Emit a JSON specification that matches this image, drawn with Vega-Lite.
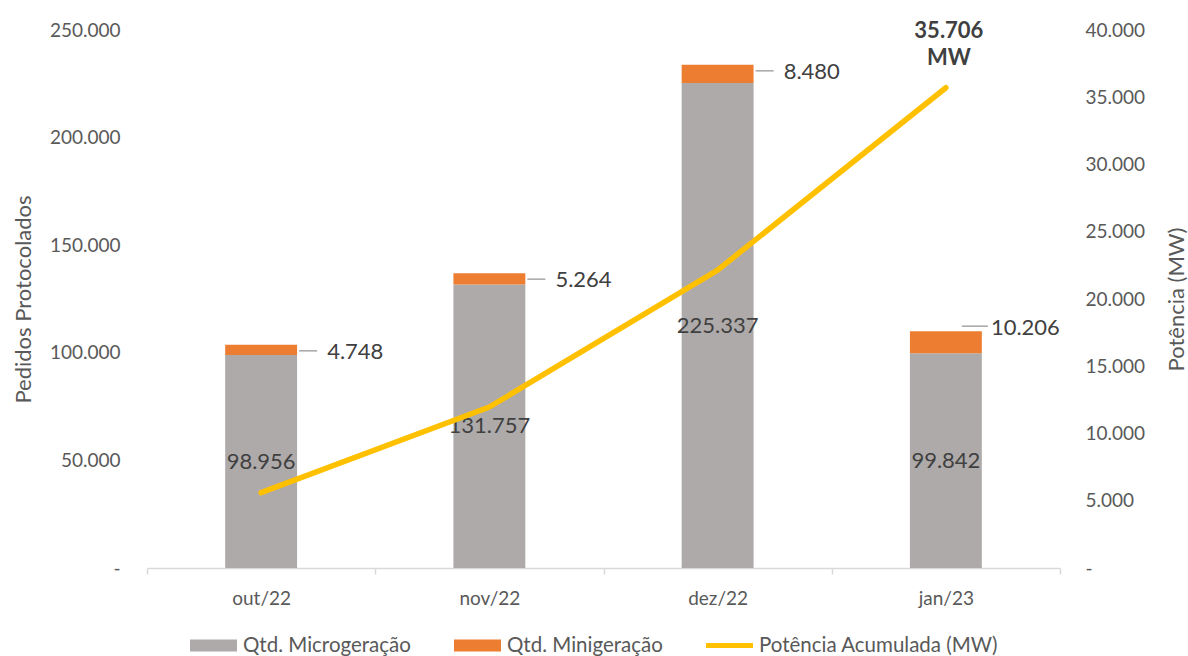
{
  "$schema": "https://vega.github.io/schema/vega-lite/v6.json",
  "width": 913,
  "height": 538,
  "autosize": "none",
  "padding": {"left": 147, "top": 30, "right": 128, "bottom": 88},
  "background": "#ffffff",
  "config": {
    "locale": {"number": {"decimal": ",", "thousands": ".", "grouping": [3], "currency": ["R$ ", ""]}},
    "view": {"stroke": null},
    "font": "Lato",
    "text": {"font": "Lato"},
    "axis": {"labelFont": "Lato", "titleFont": "Lato", "labelColor": "#595959", "titleColor": "#595959", "labelFontSize": 19, "titleFontSize": 22, "titleFontWeight": "normal", "grid": false},
    "legend": {"labelFont": "Lato"}
  },
  "datasets": {
    "barras": [
      {"mes": "out/22", "serie": "Qtd. Microgeração", "valor": 98956},
      {"mes": "out/22", "serie": "Qtd. Minigeração", "valor": 4748},
      {"mes": "nov/22", "serie": "Qtd. Microgeração", "valor": 131757},
      {"mes": "nov/22", "serie": "Qtd. Minigeração", "valor": 5264},
      {"mes": "dez/22", "serie": "Qtd. Microgeração", "valor": 225337},
      {"mes": "dez/22", "serie": "Qtd. Minigeração", "valor": 8480},
      {"mes": "jan/23", "serie": "Qtd. Microgeração", "valor": 99842},
      {"mes": "jan/23", "serie": "Qtd. Minigeração", "valor": 10206}
    ],
    "potencia": [
      {"mes": "out/22", "serie": "Potência Acumulada (MW)", "potencia": 5600},
      {"mes": "nov/22", "serie": "Potência Acumulada (MW)", "potencia": 11970},
      {"mes": "dez/22", "serie": "Potência Acumulada (MW)", "potencia": 22150},
      {"mes": "jan/23", "serie": "Potência Acumulada (MW)", "potencia": 35706}
    ]
  },
  "layer": [
    {
      "data": {"name": "barras"},
      "transform": [
        {"stack": "valor", "groupby": ["mes"], "sort": [{"field": "serie", "order": "ascending"}], "as": ["v0", "v1"]}
      ],
      "encoding": {
        "x": {
          "field": "mes", "type": "nominal",
          "sort": ["out/22", "nov/22", "dez/22", "jan/23"],
          "scale": {"paddingInner": 0, "paddingOuter": 0},
          "axis": {
            "title": null, "labelAngle": 0, "domainColor": "#D9D9D9", "domainWidth": 1.5,
            "tickColor": "#D9D9D9", "tickWidth": 1.5, "tickSize": 6, "tickBand": "extent",
            "labelPadding": 15
          }
        }
      },
      "layer": [
        {
          "mark": {"type": "bar", "width": {"band": 0.315}},
          "encoding": {
            "y": {
              "field": "v1", "type": "quantitative",
              "scale": {"domain": [0, 250000], "nice": false},
              "axis": {
                "title": "Pedidos Protocolados", "orient": "left", "values": [0, 50000, 100000, 150000, 200000, 250000],
                "format": ",d", "labelExpr": "datum.value === 0 ? '-' : datum.label",
                "domain": false, "ticks": false, "labelPadding": 27, "titlePadding": 14
              }
            },
            "y2": {"field": "v0"},
            "color": {
              "field": "serie", "type": "nominal",
              "scale": {"domain": ["Qtd. Microgeração", "Qtd. Minigeração", "Potência Acumulada (MW)"], "range": ["#AEAAAA", "#ED7D31", "#FFC000"]},
              "legend": {
                "title": null, "orient": "none", "direction": "horizontal", "legendX": 43, "legendY": 592,
                "columns": 3, "columnPadding": 43, "symbolSize": 2209, "labelOffset": 6,
                "labelFontSize": 20.5, "labelColor": "#595959", "labelLimit": 400,
                "encode": {
                  "symbols": {
                    "update": {
                      "shape": {"signal": "datum.value === 'Potência Acumulada (MW)' ? 'M-1,-0.11H1V0.11H-1Z' : 'M-1,-0.26H1V0.26H-1Z'"},
                      "fill": {"signal": "datum.value === 'Qtd. Microgeração' ? '#AEAAAA' : datum.value === 'Qtd. Minigeração' ? '#ED7D31' : '#FFC000'"},
                      "strokeWidth": {"value": 0},
                      "opacity": {"value": 1},
                      "fillOpacity": {"value": 1}
                    }
                  }
                }
              }
            }
          }
        },
        {
          "transform": [{"filter": "datum.serie === 'Qtd. Minigeração' && datum.mes !== 'jan/23'"}],
          "mark": {"type": "text", "align": "left", "baseline": "middle", "dx": 66, "dy": 7, "fontSize": 22, "color": "#404040"},
          "encoding": {
            "y": {"field": "v1", "type": "quantitative", "title": "Pedidos Protocolados", "scale": {"domain": [0, 250000], "nice": false}},
            "text": {"field": "valor", "type": "quantitative", "format": ",d"}
          }
        },
        {
          "transform": [{"filter": "datum.serie === 'Qtd. Minigeração' && datum.mes === 'jan/23'"}],
          "mark": {"type": "text", "align": "left", "baseline": "middle", "dx": 45, "dy": -3, "fontSize": 22, "color": "#404040"},
          "encoding": {
            "y": {"field": "v1", "type": "quantitative", "title": "Pedidos Protocolados", "scale": {"domain": [0, 250000], "nice": false}},
            "text": {"field": "valor", "type": "quantitative", "format": ",d"}
          }
        },
        {
          "transform": [{"filter": "datum.serie === 'Qtd. Minigeração' && datum.mes !== 'jan/23'"}],
          "mark": {"type": "rule", "xOffset": 38, "x2Offset": 56, "yOffset": 6, "color": "#A6A6A6", "strokeWidth": 1.5},
          "encoding": {
            "x2": {"field": "mes"},
            "y": {"field": "v1", "type": "quantitative", "title": "Pedidos Protocolados", "scale": {"domain": [0, 250000], "nice": false}}
          }
        },
        {
          "transform": [{"filter": "datum.serie === 'Qtd. Minigeração' && datum.mes === 'jan/23'"}],
          "mark": {"type": "rule", "xOffset": 16, "x2Offset": 42, "yOffset": -5, "color": "#A6A6A6", "strokeWidth": 1.5},
          "encoding": {
            "x2": {"field": "mes"},
            "y": {"field": "v1", "type": "quantitative", "title": "Pedidos Protocolados", "scale": {"domain": [0, 250000], "nice": false}}
          }
        }
      ]
    },
    {
      "data": {"name": "barras"},
      "transform": [{"filter": "datum.serie === 'Qtd. Microgeração'"}],
      "mark": {"type": "text", "align": "center", "baseline": "middle", "fontSize": 22, "color": "#404040"},
      "encoding": {
        "x": {"field": "mes", "type": "nominal", "sort": ["out/22", "nov/22", "dez/22", "jan/23"]},
        "y": {"field": "valor", "type": "quantitative", "scale": {"domain": [0, 500000], "nice": false}, "axis": null},
        "text": {"field": "valor", "type": "quantitative", "format": ",d"}
      }
    },
    {
      "data": {"name": "potencia"},
      "encoding": {
        "x": {"field": "mes", "type": "nominal", "sort": ["out/22", "nov/22", "dez/22", "jan/23"]},
        "y": {
          "field": "potencia", "type": "quantitative",
          "scale": {"domain": [0, 40000], "nice": false},
          "axis": {
            "title": "Potência (MW)", "orient": "right", "values": [0, 5000, 10000, 15000, 20000, 25000, 30000, 35000, 40000],
            "format": ",d", "labelExpr": "datum.value === 0 ? '-' : datum.label",
            "domain": false, "ticks": false, "labelPadding": 25, "titlePadding": 44, "titleAngle": 270
          }
        }
      },
      "layer": [
        {
          "mark": {"type": "line", "strokeWidth": 5.5, "strokeCap": "round", "strokeJoin": "round"},
          "encoding": {
            "color": {"field": "serie", "type": "nominal"}
          }
        },
        {
          "transform": [{"filter": "datum.mes === 'jan/23'"}],
          "mark": {"type": "text", "align": "center", "baseline": "bottom", "dx": 3, "dy": -45, "fontSize": 22, "fontWeight": "bold", "color": "#404040", "lineHeight": 27},
          "encoding": {
            "text": {"value": ["35.706", "MW"]}
          }
        }
      ]
    }
  ],
  "resolve": {"scale": {"y": "independent"}}
}
